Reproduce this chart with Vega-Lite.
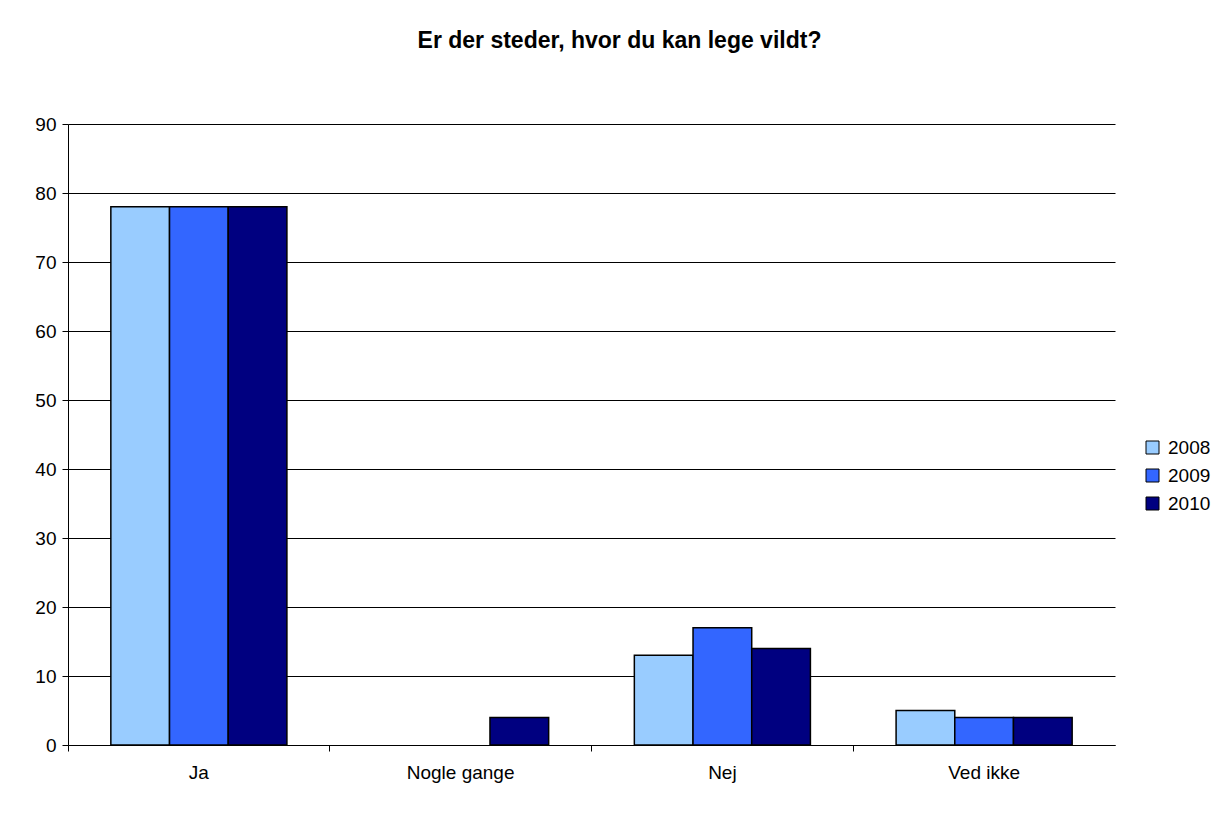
{
  "$schema": "https://vega.github.io/schema/vega-lite/v6.json",
  "autosize": {"type": "none"},
  "width": 1047,
  "height": 621,
  "padding": {"left": 68, "top": 124, "right": 108, "bottom": 69},
  "background": "white",
  "title": {
    "text": "Er der steder, hvor du kan lege vildt?",
    "font": "Liberation Sans",
    "fontSize": 23,
    "fontWeight": "bold",
    "color": "black",
    "anchor": "middle",
    "frame": "group",
    "dx": 28,
    "offset": 62
  },
  "data": {
    "values": [
      {"svar": "Ja", "aar": "2008", "pct": 78},
      {"svar": "Ja", "aar": "2009", "pct": 78},
      {"svar": "Ja", "aar": "2010", "pct": 78},
      {"svar": "Nogle gange", "aar": "2008", "pct": 0},
      {"svar": "Nogle gange", "aar": "2009", "pct": 0},
      {"svar": "Nogle gange", "aar": "2010", "pct": 4},
      {"svar": "Nej", "aar": "2008", "pct": 13},
      {"svar": "Nej", "aar": "2009", "pct": 17},
      {"svar": "Nej", "aar": "2010", "pct": 14},
      {"svar": "Ved ikke", "aar": "2008", "pct": 5},
      {"svar": "Ved ikke", "aar": "2009", "pct": 4},
      {"svar": "Ved ikke", "aar": "2010", "pct": 4}
    ]
  },
  "transform": [{"filter": "datum.pct > 0"}],
  "mark": {"type": "bar", "stroke": "black", "strokeWidth": 1.5},
  "encoding": {
    "x": {
      "field": "svar",
      "type": "nominal",
      "sort": ["Ja", "Nogle gange", "Nej", "Ved ikke"],
      "scale": {"paddingInner": 0, "paddingOuter": 0},
      "axis": {
        "title": null,
        "labelAngle": 0,
        "bandPosition": 0,
        "labelFont": "Liberation Sans",
        "labelFontSize": 19,
        "labelColor": "black",
        "labelPadding": 12,
        "tickSize": 6,
        "tickColor": "black",
        "domainColor": "black",
        "grid": false
      }
    },
    "xOffset": {
      "field": "aar",
      "type": "nominal",
      "sort": ["2008", "2009", "2010"],
      "scale": {"domain": ["2008", "2009", "2010"], "paddingInner": 0, "paddingOuter": 0.73}
    },
    "y": {
      "field": "pct",
      "type": "quantitative",
      "scale": {"domain": [0, 90], "nice": false},
      "axis": {
        "title": null,
        "values": [0, 10, 20, 30, 40, 50, 60, 70, 80, 90],
        "labelFont": "Liberation Sans",
        "labelFontSize": 19,
        "labelColor": "black",
        "labelPadding": 6,
        "tickSize": 6,
        "tickColor": "black",
        "domainColor": "black",
        "grid": true,
        "gridColor": "black",
        "gridOpacity": 1
      }
    },
    "color": {
      "field": "aar",
      "type": "nominal",
      "scale": {"domain": ["2008", "2009", "2010"], "range": ["#99CCFF", "#3366FF", "#000080"]},
      "legend": {
        "title": null,
        "orient": "none",
        "legendX": 1075,
        "legendY": 314,
        "symbolType": "square",
        "symbolSize": 169,
        "symbolStrokeColor": "black",
        "symbolStrokeWidth": 1,
        "labelFont": "Liberation Sans",
        "labelFontSize": 19,
        "labelColor": "black",
        "rowPadding": 8,
        "labelOffset": 6
      }
    }
  },
  "config": {
    "view": {"stroke": null},
    "axis": {"domainWidth": 1, "tickWidth": 1, "gridWidth": 1}
  }
}
